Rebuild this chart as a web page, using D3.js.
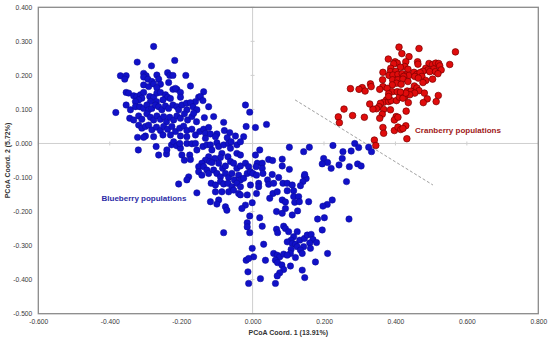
<!DOCTYPE html>
<html>
<head>
<meta charset="utf-8">
<script src="https://cdn.jsdelivr.net/npm/d3@7"></script>
<style>
 body { margin: 0; background: #fff; }
 svg { display: block; font-family: "Liberation Sans", Arial, sans-serif; }
</style>
</head>
<body>
<svg width="550" height="339"></svg>
<script>
// PCoA coordinates, as [coord 1, coord 2].

var blueberry = [
 [-0.277,0.285],[-0.323,0.239],[-0.283,0.228],[-0.218,0.244],[-0.370,0.199],[-0.354,0.199],[-0.358,0.189],[-0.305,0.206],
 [-0.298,0.199],[-0.305,0.195],[-0.293,0.189],[-0.268,0.201],[-0.263,0.189],[-0.238,0.208],[-0.232,0.200],[-0.223,0.200],
 [-0.187,0.200],[-0.174,0.169],[-0.305,0.172],[-0.291,0.167],[-0.282,0.182],[-0.277,0.175],[-0.258,0.174],[-0.268,0.164],
 [-0.235,0.179],[-0.223,0.159],[-0.212,0.159],[-0.202,0.150],[-0.216,0.162],[-0.354,0.150],[-0.347,0.148],[-0.333,0.140],
 [-0.324,0.138],[-0.314,0.143],[-0.305,0.150],[-0.310,0.133],[-0.319,0.128],[-0.328,0.123],[-0.288,0.138],[-0.277,0.136],
 [-0.268,0.148],[-0.258,0.150],[-0.244,0.143],[-0.238,0.136],[-0.230,0.132],[-0.251,0.128],[-0.269,0.123],[-0.286,0.123],
 [-0.202,0.136],[-0.160,0.123],[-0.151,0.136],[-0.354,0.113],[-0.342,0.099],[-0.328,0.108],[-0.316,0.108],[-0.305,0.103],
 [-0.296,0.113],[-0.291,0.099],[-0.282,0.103],[-0.272,0.113],[-0.263,0.108],[-0.254,0.099],[-0.244,0.110],[-0.235,0.103],
 [-0.223,0.113],[-0.212,0.108],[-0.207,0.099],[-0.198,0.113],[-0.185,0.118],[-0.174,0.120],[-0.184,0.099],[-0.167,0.108],
 [-0.156,0.099],[-0.383,0.091],[-0.344,0.074],[-0.333,0.069],[-0.319,0.081],[-0.310,0.071],[-0.296,0.087],[-0.286,0.077],
 [-0.277,0.069],[-0.268,0.081],[-0.258,0.071],[-0.249,0.079],[-0.241,0.064],[-0.232,0.077],[-0.221,0.069],[-0.212,0.081],
 [-0.202,0.074],[-0.191,0.087],[-0.182,0.069],[-0.170,0.079],[-0.157,0.064],[-0.165,0.089],[-0.319,0.054],[-0.310,0.045],
 [-0.300,0.050],[-0.291,0.054],[-0.282,0.040],[-0.269,0.048],[-0.258,0.038],[-0.249,0.050],[-0.238,0.042],[-0.226,0.050],
 [-0.216,0.035],[-0.204,0.045],[-0.193,0.051],[-0.184,0.038],[-0.170,0.042],[-0.160,0.025],[-0.148,0.035],[-0.277,0.020],
 [-0.300,0.022],[-0.322,0.018],[-0.305,0.018],[-0.251,0.025],[-0.230,0.025],[-0.202,0.022],[-0.184,0.020],
 [-0.137,0.152],[-0.146,0.138],[-0.139,0.126],[-0.123,0.108],[-0.135,0.076],[-0.109,0.079],[-0.081,0.062],[-0.137,0.042],
 [-0.123,0.047],[-0.132,0.030],[-0.118,0.028],[-0.100,0.028],[-0.079,0.038],[-0.064,0.032],[-0.048,0.022],[-0.025,0.020],
 [-0.018,0.050],[0.008,0.047],[0.039,0.056],[-0.020,0.113],[-0.008,0.092],[-0.132,0.015],[-0.104,0.020],[-0.071,0.017],
 [-0.320,-0.019],
 [-0.270,-0.009],[-0.263,-0.034],[-0.241,-0.031],[-0.240,-0.019],[-0.227,-0.004],[-0.221,0.005],[-0.212,-0.007],[-0.202,-0.014],
 [-0.204,0.000],[-0.198,-0.034],[-0.191,-0.049],[-0.184,0.000],[-0.176,-0.034],[-0.170,-0.001],[-0.174,-0.047],[-0.160,0.000],
 [-0.156,-0.019],[-0.139,-0.009],[-0.128,-0.004],[-0.118,-0.004],[-0.114,-0.019],[-0.100,0.002],[-0.095,-0.009],[-0.086,-0.029],
 [-0.081,-0.004],[-0.067,0.000],[-0.062,-0.014],[-0.060,0.005],[-0.044,-0.004],[-0.034,0.005],[-0.044,-0.029],[-0.034,-0.034],
 [-0.069,-0.039],[-0.090,-0.041],[-0.106,-0.044],[-0.123,-0.039],[-0.132,-0.049],[-0.142,-0.058],[-0.151,-0.068],[-0.137,-0.068],
 [-0.128,-0.078],[-0.120,-0.053],[-0.114,-0.056],[-0.095,-0.058],[-0.084,-0.073],[-0.076,-0.066],[-0.062,-0.053],[-0.053,-0.058],
 [-0.044,-0.073],[-0.034,-0.066],[-0.020,-0.058],[-0.011,-0.068],[-0.151,-0.083],[-0.142,-0.093],[-0.123,-0.088],[-0.109,-0.078],
 [-0.100,-0.088],[-0.090,-0.098],[-0.076,-0.088],[-0.067,-0.100],[-0.058,-0.088],[-0.051,-0.107],[-0.039,-0.093],[-0.034,-0.107],
 [-0.025,-0.102],[-0.015,-0.088],[-0.006,-0.083],[-0.179,-0.098],[-0.184,-0.107],[-0.207,-0.119],[-0.156,-0.145],[-0.116,-0.117],
 [-0.104,-0.122],[-0.090,-0.112],[-0.081,-0.119],[-0.069,-0.117],[-0.058,-0.127],[-0.044,-0.117],[-0.034,-0.127],[-0.104,-0.142],
 [-0.086,-0.142],[-0.067,-0.142],[-0.053,-0.137],[-0.039,-0.147],[-0.118,-0.171],[-0.095,-0.166],[-0.100,-0.178],[-0.076,-0.186],
 [-0.072,-0.196],[-0.034,-0.151],[-0.015,-0.151],[-0.006,-0.122],[-0.020,-0.181],[-0.030,-0.191],[-0.008,-0.213],[-0.015,-0.233],
 [-0.015,-0.245],[-0.001,-0.174],
 [0.103,-0.011],[0.143,-0.024],[0.159,-0.011],[0.225,-0.006],[0.286,0.000],[0.297,-0.012],[0.325,-0.011],[0.333,-0.024],
 [0.253,-0.024],[0.276,-0.022],[0.008,-0.034],[0.020,-0.019],[0.013,-0.058],[0.010,-0.068],[0.027,-0.058],[0.027,-0.073],
 [0.045,-0.047],[0.056,-0.050],[0.083,-0.046],[0.083,-0.066],[0.103,-0.076],[0.199,-0.044],[0.210,-0.056],[0.195,-0.060],
 [0.220,-0.073],[0.242,-0.063],[0.251,-0.044],[0.271,-0.068],[0.294,-0.060],[0.304,-0.066],[0.001,-0.088],[0.011,-0.093],
 [0.017,-0.117],[0.029,-0.088],[0.042,-0.107],[0.055,-0.091],[0.045,-0.120],[0.059,-0.117],[0.073,-0.100],[0.085,-0.117],
 [0.097,-0.117],[0.111,-0.122],[0.145,-0.096],[0.150,-0.103],[0.141,-0.112],[0.146,-0.091],[0.134,-0.124],[0.115,-0.139],
 [0.097,-0.139],[0.263,-0.112],[0.011,-0.147],[0.017,-0.127],[0.057,-0.147],[0.069,-0.142],[0.048,-0.161],[0.083,-0.166],
 [0.092,-0.172],[0.115,-0.156],[0.129,-0.156],[0.118,-0.173],[0.131,-0.171],[0.157,-0.171],[0.223,-0.166],[0.209,-0.179],
 [0.197,-0.184],[0.067,-0.200],[0.083,-0.205],[0.092,-0.191],[0.111,-0.210],[0.126,-0.198],[0.182,-0.222],[0.201,-0.218],
 [0.270,-0.222],[0.195,-0.254],[0.020,-0.218],[0.027,-0.243],[0.087,-0.243],[0.092,-0.250],[0.067,-0.252],[0.070,-0.262],
 [0.101,-0.259],[0.125,-0.259],[0.115,-0.274],[0.108,-0.284],[0.097,-0.289],[0.111,-0.294],[0.120,-0.296],[0.132,-0.284],
 [0.145,-0.279],[0.153,-0.269],[0.164,-0.267],[0.169,-0.282],[0.160,-0.292],[0.179,-0.291],[0.125,-0.303],[0.143,-0.303],
 [0.134,-0.313],[0.108,-0.311],[0.106,-0.323],[0.120,-0.335],[0.139,-0.323],[0.162,-0.308],[0.176,-0.348],[0.210,-0.323],
 [0.031,-0.296],[-0.001,-0.308],[0.003,-0.333],[0.059,-0.323],[0.069,-0.328],[0.076,-0.333],[0.087,-0.325],[0.097,-0.328],
 [0.064,-0.343],[0.070,-0.350],[0.082,-0.357],[0.036,-0.343],[0.106,-0.360],[0.087,-0.370],[0.076,-0.380],[0.069,-0.389],
 [0.139,-0.372],[0.146,-0.394],[0.022,-0.397],[0.064,-0.411],
 [-0.081,-0.262],[-0.008,-0.262],[-0.018,-0.343],[-0.011,-0.338],[-0.013,-0.377],[-0.011,-0.411]
];

var cranberry = [
 [0.568,0.269],[0.410,0.283],[0.466,0.279],[0.418,0.264],[0.438,0.255],[0.380,0.248],[0.399,0.240],[0.405,0.236],
 [0.395,0.234],[0.429,0.240],[0.462,0.240],[0.463,0.233],[0.494,0.235],[0.504,0.232],[0.513,0.236],[0.521,0.235],
 [0.524,0.228],[0.552,0.232],[0.426,0.226],[0.414,0.224],[0.435,0.218],[0.387,0.221],[0.386,0.211],[0.401,0.212],
 [0.485,0.221],[0.491,0.216],[0.507,0.219],[0.496,0.211],[0.477,0.212],[0.512,0.211],[0.528,0.216],[0.519,0.205],
 [0.365,0.209],[0.364,0.187],[0.382,0.200],[0.393,0.201],[0.407,0.203],[0.419,0.205],[0.430,0.201],[0.438,0.200],
 [0.423,0.197],[0.452,0.209],[0.460,0.203],[0.469,0.208],[0.454,0.197],[0.474,0.197],[0.464,0.192],[0.485,0.185],
 [0.477,0.179],[0.504,0.189],[0.392,0.187],[0.407,0.187],[0.421,0.189],[0.435,0.182],[0.403,0.177],[0.416,0.174],
 [0.391,0.172],[0.365,0.167],[0.377,0.162],[0.391,0.152],[0.405,0.152],[0.433,0.154],[0.444,0.154],[0.453,0.169],
 [0.460,0.163],[0.466,0.155],[0.481,0.148],[0.454,0.148],[0.330,0.175],[0.332,0.167],[0.307,0.164],[0.298,0.159],
 [0.315,0.154],[0.274,0.161],[0.356,0.159],[0.381,0.146],[0.375,0.128],[0.367,0.121],[0.358,0.118],[0.354,0.108],
 [0.347,0.102],[0.337,0.101],[0.328,0.116],[0.381,0.123],[0.388,0.126],[0.367,0.100],[0.386,0.099],[0.403,0.126],
 [0.427,0.138],[0.440,0.143],[0.436,0.120],[0.430,0.095],[0.411,0.136],[0.421,0.133],[0.429,0.148],[0.414,0.151],
 [0.381,0.138],[0.520,0.141],[0.514,0.123],[0.489,0.131],[0.478,0.120],[0.256,0.101],[0.280,0.082],[0.240,0.078],
 [0.243,0.061],[0.313,0.077],[0.363,0.086],[0.356,0.074],[0.402,0.079],[0.397,0.069],[0.407,0.077],[0.365,0.047],
 [0.367,0.030],[0.397,0.038],[0.407,0.048],[0.415,0.041],[0.429,0.052],[0.432,0.014],[0.421,0.044],[0.341,0.010],
 [0.345,-0.006]
];

var xTicks = [-0.6, -0.4, -0.2, 0, 0.2, 0.4, 0.6, 0.8];
var yTicks = [0.4, 0.3, 0.2, 0.1, 0, -0.1, -0.2, -0.3, -0.4, -0.5];
var xTitle = 'PCoA Coord. 1 (13.91%)';
var yTitle = 'PCoA Coord. 2 (5.72%)';
var groupLabels = [
 {name: 'Blueberry populations', x: -0.423, y: -0.169, color: '#2b2ba6'},
 {name: 'Cranberry populations', x: 0.455, y: 0.031, color: '#a01818'}
];
var divider = [[0.119, 0.128], [0.505, -0.122]];

// Scales and frame.

var svg = d3.select('svg');
var plot = {left: 38.3, right: 538.3, top: 7.3, bottom: 313.7};

var x = d3.scaleLinear().domain([-0.6, 0.8]).range([plot.left, plot.right]);
var y = d3.scaleLinear().domain([-0.5, 0.4]).range([plot.bottom, plot.top]);
var fmt = function(d) { return d3.format('.3f')(d).replace('\u2212', '-'); };

// zero lines with small cross ticks
var zero = svg.append('g').attr('stroke', '#cfcfcf').attr('stroke-width', 1);
zero.append('line')
 .attr('x1', plot.left).attr('x2', plot.right)
 .attr('y1', y(0)).attr('y2', y(0));
zero.append('line')
 .attr('x1', x(0)).attr('x2', x(0))
 .attr('y1', plot.top).attr('y2', plot.bottom);
zero.selectAll('.xt')
 .data(xTicks)
 .enter().append('line')
 .attr('x1', function(d) { return x(d); }).attr('x2', function(d) { return x(d); })
 .attr('y1', y(0) - 2).attr('y2', y(0) + 2);
zero.selectAll('.yt')
 .data(yTicks)
 .enter().append('line')
 .attr('x1', x(0) - 2).attr('x2', x(0) + 2)
 .attr('y1', function(d) { return y(d); }).attr('y2', function(d) { return y(d); });

svg.append('rect')
 .attr('x', plot.left).attr('y', plot.top)
 .attr('width', plot.right - plot.left).attr('height', plot.bottom - plot.top)
 .attr('fill', 'none').attr('stroke', '#8a8a8a').attr('stroke-width', 1.3);

var xAxis = svg.append('g')
 .attr('transform', 'translate(0,' + plot.bottom + ')')
 .call(d3.axisBottom(x).tickValues(xTicks).tickFormat(fmt).tickSize(0).tickPadding(6));
var yAxis = svg.append('g')
 .attr('transform', 'translate(' + plot.left + ',0)')
 .call(d3.axisLeft(y).tickValues(yTicks).tickFormat(fmt).tickSize(0).tickPadding(6));

[xAxis, yAxis].forEach(function(a) {
 a.select('.domain').remove();
 a.selectAll('text')
  .attr('font-family', '"Liberation Sans", Arial, sans-serif')
  .attr('font-size', 6.7)
  .attr('fill', '#3a3a3a');
});

svg.append('text')
 .attr('x', (plot.left + plot.right) / 2).attr('y', 334.5)
 .attr('text-anchor', 'middle')
 .attr('font-size', 7).attr('font-weight', 'bold').attr('fill', '#333')
 .text(xTitle);

svg.append('text')
 .attr('transform', 'translate(10,' + (plot.top + plot.bottom) / 2 + ') rotate(-90)')
 .attr('text-anchor', 'middle')
 .attr('font-size', 7).attr('font-weight', 'bold').attr('fill', '#333')
 .text(yTitle);

// Divider between the two groups.

svg.append('line')
 .attr('x1', x(divider[0][0])).attr('y1', y(divider[0][1]))
 .attr('x2', x(divider[1][0])).attr('y2', y(divider[1][1]))
 .attr('stroke', '#a0a0a0').attr('stroke-width', 1).attr('stroke-dasharray', '3,2');

// Points.

svg.append('g')
 .selectAll('circle')
 .data(blueberry)
 .enter().append('circle')
 .attr('cx', function(d) { return x(d[0]); })
 .attr('cy', function(d) { return y(d[1]); })
 .attr('r', 3.2)
 .attr('fill', '#1111c8')
 .attr('stroke', '#0a0a96')
 .attr('stroke-width', 0.5);

svg.append('g')
 .selectAll('circle')
 .data(cranberry)
 .enter().append('circle')
 .attr('cx', function(d) { return x(d[0]); })
 .attr('cy', function(d) { return y(d[1]); })
 .attr('r', 3.3)
 .attr('fill', '#e00c0c')
 .attr('stroke', '#7a0000')
 .attr('stroke-width', 0.7);

svg.selectAll('.grp')
 .data(groupLabels)
 .enter().append('text')
 .attr('x', function(d) { return x(d.x); })
 .attr('y', function(d) { return y(d.y); })
 .attr('font-size', 8).attr('font-weight', 'bold')
 .attr('fill', function(d) { return d.color; })
 .text(function(d) { return d.name; });
</script>
</body>
</html>
